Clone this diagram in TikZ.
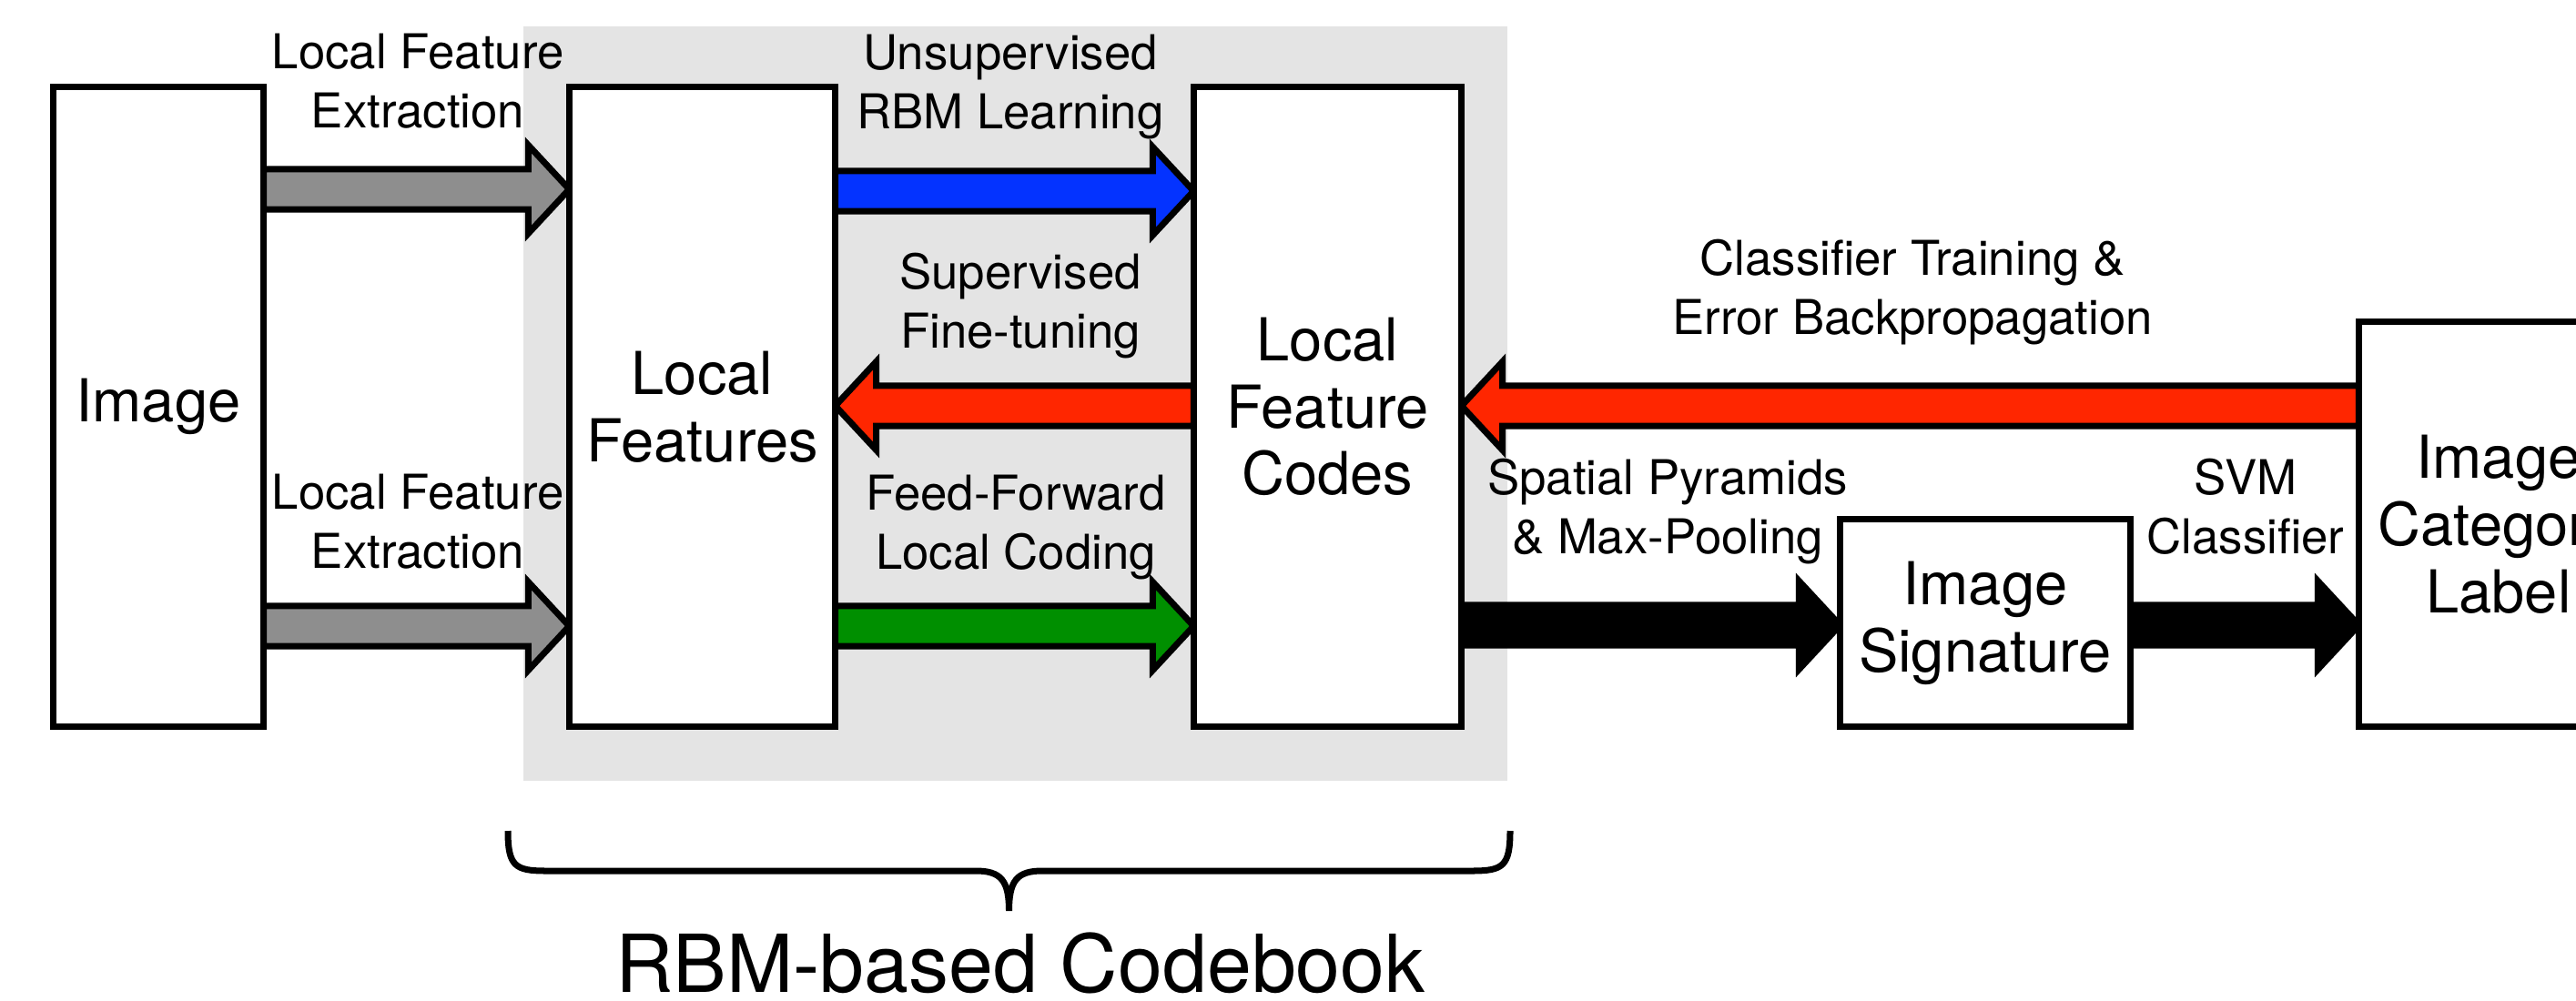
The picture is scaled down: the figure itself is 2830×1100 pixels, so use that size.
\documentclass[tikz,border=0pt]{standalone}
\usepackage{fontspec}
\setmainfont{TeX Gyre Heros}
\usetikzlibrary{calc}
\pgfdeclarelayer{bg}
\pgfdeclarelayer{arrows}
\pgfsetlayers{bg,arrows,main}

\definecolor{panelgray}{HTML}{E4E4E4}
\definecolor{extractgray}{HTML}{8E8E8E}
\definecolor{rbmblue}{HTML}{0433FF}
\definecolor{errred}{HTML}{FF2600}
\definecolor{codegreen}{HTML}{008F00}

\tikzset{
  box/.style={draw=black, fill=white, line width=0.07cm, outer sep=0pt,
    inner sep=0pt, align=center, font=\fontsize{18.5}{21}\selectfont},
  lbl/.style={align=center, anchor=base, inner sep=0pt,
    font=\fontsize{15}{18.3}\selectfont},
  % block arrow from the start coordinate to the target, tip at the target
  barrow/.style={draw=black, line width=0.07cm, line join=miter, miter limit=10,
    to path={let \p1=(\tikztostart), \p2=(\tikztotarget), \n1={sign(\x2-\x1)} in
      (\x1,\y1+0.22cm) -- (\x2-\n1*0.45cm,\y1+0.22cm) -- (\x2-\n1*0.45cm,\y1+0.485cm)
      -- (\x2,\y1) -- (\x2-\n1*0.45cm,\y1-0.485cm) -- (\x2-\n1*0.45cm,\y1-0.22cm)
      -- (\x1,\y1-0.22cm) -- cycle}}
}

\begin{document}
\begin{tikzpicture}[x=0.01cm, y=-0.01cm]
\useasboundingbox (0,0) rectangle (2830,1100);

% codebook panel
\begin{pgfonlayer}{bg}
  \fill[panelgray] (575,29) rectangle (1656,858);
\end{pgfonlayer}

% processing stages
\node[box, minimum width=2.31cm, minimum height=7.03cm] (img) at (174,447) {Image};
\node[box, minimum width=2.92cm, minimum height=7.03cm] (lf) at (771.5,447) {Local\\Features};
\node[box, minimum width=2.94cm, minimum height=7.03cm] (lfc) at (1458.5,447) {Local\\Feature\\Codes};
\node[box, minimum width=3.19cm, minimum height=2.28cm] (sig) at (2181,684.5) {Image\\Signature};
\node[box, minimum width=3.07cm, minimum height=4.45cm] (icl) at (2745,576) {Image\\Category\\Label};

% connectors
\begin{pgfonlayer}{arrows}
  \draw[barrow, fill=extractgray] (img.east |- 0,208) to (lf.west |- 0,208);
  \draw[barrow, fill=extractgray] (img.east |- 0,688) to (lf.west |- 0,688);
  \draw[barrow, fill=rbmblue] (lf.east |- 0,210) to (lfc.west |- 0,210);
  \draw[barrow, fill=errred] (lfc.west |- 0,446) to (lf.east |- 0,446);
  \draw[barrow, fill=codegreen] (lf.east |- 0,688) to (lfc.west |- 0,688);
  \draw[barrow, fill=errred] (icl.west |- 0,446) to (lfc.east |- 0,446);
  \draw[barrow, fill=black] (lfc.east |- 0,687) to (sig.west |- 0,687);
  \draw[barrow, fill=black] (sig.east |- 0,687) to (icl.west |- 0,687);
\end{pgfonlayer}

% connector labels (anchored at the baseline of their last line)
\node[lbl] (t1) at (459,140) {Local Feature\\Extraction};
\node[lbl] (t2) at (459,624) {Local Feature\\Extraction};
\node[lbl] (t3) at (1110,141) {Unsupervised\\RBM Learning};
\node[lbl] (t4) at (1121,382) {Supervised\\Fine-tuning};
\node[lbl] (t5) at (1116,625) {Feed-Forward\\Local Coding};
\node[lbl] (t6) at (2101,367) {Classifier Training \&\\Error Backpropagation};
\node[lbl] (t7) at (1832,608) {Spatial Pyramids\\\& Max-Pooling};
\node[lbl] (t8) at (2467,608) {SVM\\Classifier};

% brace under the codebook panel
\draw[line width=0.07cm, line cap=butt]
  (558,913) .. controls (558,952) and (566,957) .. (600,957)
  -- (1072,957) .. controls (1100,957) and (1108.5,968) .. (1108.5,1001)
  .. controls (1108.5,968) and (1117,957) .. (1145,957)
  -- (1617,957) .. controls (1651,957) and (1659,952) .. (1659,913);
\node[anchor=base, inner sep=0pt, font=\fontsize{25}{30}\selectfont] (cb) at (1121,1090) {RBM-based Codebook};
\end{tikzpicture}
\end{document}
